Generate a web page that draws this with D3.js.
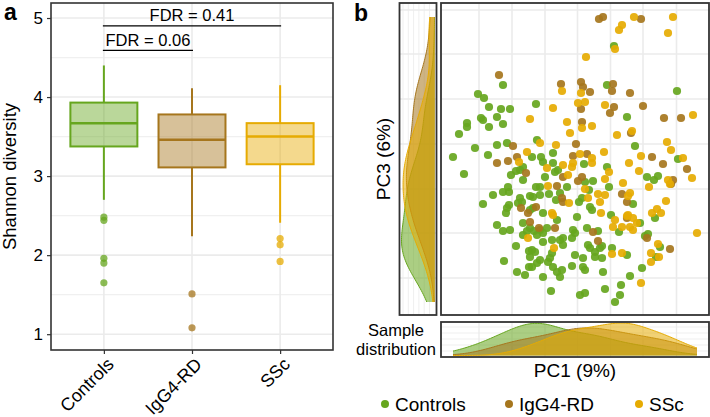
<!DOCTYPE html>
<html><head><meta charset="utf-8">
<script src="https://cdn.jsdelivr.net/npm/d3@7"></script>
<style>body{margin:0;background:#fff}svg{font-family:"Liberation Sans",Arial,sans-serif}</style>
</head><body>
<svg id="c" width="710" height="417"></svg>
<script>
// ---------- Panel a data ----------
const categories = ["Controls", "IgG4-RD", "SSc"];
const groupColors = ["#66a61e", "#a6761d", "#e6ab02"];
const whiskerLow = [2.70, 2.24, 2.41];
const boxQ1 = [3.375, 3.11, 3.15];
const boxMedian = [3.67, 3.46, 3.50];
const boxQ3 = [3.93, 3.78, 3.67];
const whiskerHigh = [4.40, 4.11, 4.15];
const outliers = [[2.48, 2.44, 1.96, 1.90, 1.65], [1.51, 1.08], [2.21, 2.13, 1.92]];
const yTicksA = [1, 2, 3, 4, 5];
const yMinorA = [1.5, 2.5, 3.5, 4.5];
const fdrLabels = ["FDR = 0.41", "FDR = 0.06"];
const fdrPairs = [[0, 2], [0, 1]];
const fdrLevels = [4.90, 4.59];

// ---------- Panel b data (PC1, PC3) ----------
const controlsPoints = [[-7.2,7.5],[-9.7,6.6],[-9.1,6.2],[-8.6,5.3],[-7.4,5.1],[-6.5,5.1],[-9.4,4.2],[-9.2,4.0],[-7.8,4.3],[-10.8,3.7],[-10.8,3.3],[-8.6,3.3],[-7.2,3.6],[-11.6,2.6],[-6.8,1.7],[-7.8,1.5],[-10.0,1.2],[-8.7,0.5],[-12.2,0.3],
[3.9,11.4],[3.2,7.5],[-3.9,5.6],[-3.8,2.0],[-2.2,0.7],[-4.3,0.3],[-3.4,0.3],[10.2,6.9],[5.2,4.3],[6.0,1.4],[10.3,0.1],
[-11.1,-1.4],[-5.2,-0.7],[-5.5,-1.0],[-5.9,-1.1],[-6.4,-1.5],[-5.2,-2.0],[-6.7,-2.7],[-7.2,-3.2],[-6.6,-3.2],[-8.2,-3.5],[-9.2,-4.4],[-5.5,-3.8],[-5.3,-4.2],[-5.7,-4.3],[-6.6,-4.5],[-6.8,-4.8],[-6.9,-5.3],[-7.8,-6.5],[-5.2,-6.3],[-7.2,-7.1],[-6.5,-7.0],[-5.2,-7.5],[-4.8,-7.1],[-5.9,-8.6],[-4.6,-9.1],[-7.1,-10.1],[-5.8,-11.2],[-5.0,-11.5],[-4.6,-10.7],
[-3.2,-0.2],[-2.2,-0.3],[-2.0,-1.2],[-1.7,-1.0],[0.9,-0.4],[3.2,-0.7],[-3.0,-1.7],[1.0,-2.2],[1.8,-2.1],[-3.9,-2.7],[-3.5,-2.7],[-0.8,-2.7],[1.4,-3.0],[3.4,-2.7],[-4.5,-3.6],[-4.2,-3.7],[-3.5,-3.5],[-2.6,-3.4],[-1.5,-3.3],[0.4,-4.2],[0.7,-3.8],[-1.9,-4.0],[-4.2,-4.8],[-4.5,-5.0],[-3.2,-5.3],[-1.8,-6.0],[0.2,-5.7],[1.5,-4.7],[1.7,-5.0],[3.6,-5.5],[-4.5,-6.8],[-4.1,-7.1],[-3.5,-7.0],[-2.8,-6.8],[-3.2,-7.3],[-3.8,-7.5],[-0.2,-7.0],[0.0,-7.3],[-0.3,-7.8],[1.2,-6.8],[2.3,-7.1],[4.4,-7.2],[-3.2,-8.2],[-2.3,-8.0],[-1.5,-8.0],[-1.2,-7.8],[-1.2,-8.5],[1.3,-8.5],[1.5,-8.8],[2.0,-9.2],[2.5,-8.8],[2.7,-8.6],[3.7,-8.8],[-4.3,-9.0],[-4.0,-9.2],[-4.5,-9.7],[-2.3,-9.3],[-2.5,-9.8],[-2.7,-10.2],[-3.5,-10.0],[-3.8,-10.3],[0.0,-9.5],[0.8,-9.8],[2.0,-9.7],[2.7,-9.8],[-2.2,-10.7],[-1.8,-11.2],[-1.3,-11.0],[-0.3,-10.6],[0.8,-10.7],[1.0,-11.0],[2.8,-11.2],[-4.3,-10.7],[-3.2,-11.7],[-1.5,-11.7],[-2.4,-13.1],[0.5,-13.5],[1.0,-13.3],[3.0,-12.9],[4.6,-12.5],[4.5,-13.5],[4.0,-14.2],
[7.9,-2.0],[8.3,-1.6],[7.2,-1.7],[5.8,-4.4],[8.0,-5.8],[6.5,-6.3],[7.0,-7.6],[7.3,-7.4],[8.5,-8.7],[8.1,-9.7],[5.2,-9.5],[6.7,-10.8],[5.5,-11.6]];

const igg4Points = [[-7.6,8.5],[-6.2,1.4],[-5.8,0.3],[-6.7,-0.1],[-7.8,-0.3],[2.4,14.1],[2.8,14.3],[-1.4,7.6],[0.6,7.8],[0.8,7.3],[1.5,6.8],[3.8,7.6],[3.7,6.9],[0.6,5.1],[3.9,5.3],[3.5,4.7],[0.7,3.8],[0.1,1.6],[-0.2,0.4],[1.2,0.6],[6.6,14.1],[5.5,6.7],[6.8,5.4],[8.9,4.2],[10.6,4.2],[5.6,2.7],[7.7,0.3],[-4.9,-1.3],[-5.4,-4.8],[-4.7,-5.3],
[-1.2,-1.7],[0.3,-2.1],[0.7,-1.7],[-1.8,-2.6],[-1.3,-3.8],[-1.2,-4.2],[-3.9,-4.7],[-4.5,-6.2],[-3.6,-6.8],[-2.0,-6.8],[1.8,-7.2],[2.3,-8.1],
[8.8,-0.4],[11.2,-0.9],[9.8,-2.0],[9.6,-2.4],[4.7,-3.4],[5.2,-4.2],[5.2,-5.8],[7.2,-7.8],[9.5,-8.9]];

const sscPoints = [[-4.5,4.1],[-4.8,0.8],[4.7,13.5],[4.4,13.0],[4.0,11.1],[1.1,10.3],[-1.3,6.9],[0.6,6.7],[-2.2,5.2],[0.3,5.7],[1.0,5.8],[3.0,5.5],[-0.8,3.8],[0.7,3.2],[1.7,3.4],[-0.5,2.7],[4.2,2.5],[-3.5,1.7],[-1.9,1.5],[2.9,0.8],[0.5,0.6],[1.7,0.2],[5.9,14.3],[9.8,14.3],[9.3,12.7],[11.8,4.5],[5.7,2.9],[9.2,1.8],[9.6,1.0],[6.6,0.4],[10.8,0.2],[-5.6,-0.2],[-4.7,-7.8],
[-2.8,-0.8],[-1.2,-0.5],[-0.3,-0.7],[-0.2,-0.3],[1.7,-0.3],[3.4,-1.2],[-0.7,-1.5],[3.0,-1.9],[-2.7,-2.6],[1.0,-2.9],[-0.6,-4.3],[1.3,-3.8],[2.3,-3.4],[3.0,-3.5],[2.5,-4.2],[-2.3,-5.3],[-2.2,-5.5],[2.6,-5.3],[4.0,-6.0],[3.8,-6.7],[-2.1,-8.8],[3.7,-9.4],
[5.4,-0.3],[6.4,-1.1],[11.7,-1.8],[9.3,-2.0],[9.5,-2.4],[4.8,-2.3],[7.4,-2.7],[5.5,-3.3],[5.3,-3.6],[9.1,-4.1],[7.7,-5.3],[8.2,-4.9],[8.6,-5.3],[5.3,-5.5],[5.2,-5.6],[5.8,-5.8],[5.5,-6.7],[5.8,-7.0],[6.2,-6.3],[4.7,-6.7],[12.2,-7.3],[8.3,-8.4],[7.6,-9.3],[7.6,-10.2],[8.4,-9.7],[4.7,-9.3],[6.6,-12.3]];

const groupPoints = [controlsPoints, igg4Points, sscPoints];
const pc1Grid = [-9.6, -6.3, -3.0, 0.25, 3.55, 6.8, 10.15];
const pc3Grid = [15.0, 10.6, 6.1, 1.6, -2.9, -7.3, -11.8];
const bandwidthAdjust = 1.2;

const svg = d3.select("#c");
const gridCol = "#ebebeb", frameCol = "#333333";

// ================= Panel a =================
const A = {x0: 51, x1: 333, y0: 3, y1: 350};
const xA = d3.scalePoint().domain(categories).range([A.x0, A.x1]).padding(0.6);
const yA = d3.scaleLinear().domain([0.80, 5.19]).range([A.y1, A.y0]);
const ga = svg.append("g");
ga.selectAll(".minor").data(yMinorA).join("line")
  .attr("x1", A.x0).attr("x2", A.x1).attr("y1", d => yA(d)).attr("y2", d => yA(d))
  .attr("stroke", "#f0f0f0").attr("stroke-width", 1.2);
ga.selectAll(".major").data(yTicksA).join("line")
  .attr("x1", A.x0).attr("x2", A.x1).attr("y1", d => yA(d)).attr("y2", d => yA(d))
  .attr("stroke", gridCol).attr("stroke-width", 1.6);
ga.selectAll(".vmaj").data(categories).join("line")
  .attr("x1", d => xA(d)).attr("x2", d => xA(d)).attr("y1", A.y0).attr("y2", A.y1)
  .attr("stroke", gridCol).attr("stroke-width", 1.6);

const bw = xA.step() * 0.76;
categories.forEach((c, i) => {
  const cx = xA(c), col = groupColors[i];
  ga.append("line").attr("x1", cx).attr("x2", cx).attr("y1", yA(whiskerHigh[i])).attr("y2", yA(boxQ3[i]))
    .attr("stroke", col).attr("stroke-width", 2);
  ga.append("line").attr("x1", cx).attr("x2", cx).attr("y1", yA(boxQ1[i])).attr("y2", yA(whiskerLow[i]))
    .attr("stroke", col).attr("stroke-width", 2);
  ga.append("rect").attr("x", cx - bw / 2).attr("width", bw)
    .attr("y", yA(boxQ3[i])).attr("height", yA(boxQ1[i]) - yA(boxQ3[i]))
    .attr("fill", col).attr("fill-opacity", 0.45).attr("stroke", col).attr("stroke-width", 2);
  ga.append("line").attr("x1", cx - bw / 2).attr("x2", cx + bw / 2)
    .attr("y1", yA(boxMedian[i])).attr("y2", yA(boxMedian[i])).attr("stroke", col).attr("stroke-width", 2.5);
  ga.selectAll(null).data(outliers[i]).join("circle")
    .attr("cx", cx).attr("cy", d => yA(d)).attr("r", 3.6)
    .attr("fill", col).attr("fill-opacity", 0.75);
});
// FDR brackets
fdrPairs.forEach((p, i) => {
  const xa = xA(categories[p[0]]), xb = xA(categories[p[1]]), yy = yA(fdrLevels[i]);
  ga.append("line").attr("x1", xa - 1).attr("x2", xb + 1).attr("y1", yy).attr("y2", yy)
    .attr("stroke", "#000").attr("stroke-width", 1.3);
  ga.append("text").attr("x", (xa + xb) / 2).attr("y", yy - 4.5).attr("text-anchor", "middle")
    .attr("font-size", 16.5).text(fdrLabels[i]);
});
// frame
ga.append("rect").attr("x", A.x0).attr("y", A.y0).attr("width", A.x1 - A.x0).attr("height", A.y1 - A.y0)
  .attr("fill", "none").attr("stroke", frameCol).attr("stroke-width", 1.6);
// y axis
const yAxisA = d3.axisLeft(yA).tickValues(yTicksA).tickSize(4).tickPadding(4).tickFormat(d3.format("d"));
const gy = ga.append("g").attr("transform", `translate(${A.x0},0)`).call(yAxisA);
gy.select(".domain").remove();
gy.selectAll("line").attr("stroke", frameCol).attr("stroke-width", 1.2);
gy.selectAll("text").attr("font-size", 17).attr("fill", "#000").attr("font-family", "Liberation Sans, Arial, sans-serif");
// x axis
const xAxisA = d3.axisBottom(xA).tickSize(4).tickFormat(() => "");
const gx = ga.append("g").attr("transform", `translate(0,${A.y1})`).call(xAxisA);
gx.select(".domain").remove();
gx.selectAll("line").attr("stroke", frameCol).attr("stroke-width", 1.2);
ga.selectAll(".xl").data(categories).join("text")
  .attr("transform", d => `translate(${xA(d) + 11},${A.y1 + 15.5}) rotate(-45)`)
  .attr("text-anchor", "end").attr("font-size", 18).text(d => d);
ga.append("text").attr("transform", `translate(16,${(A.y0 + A.y1) / 2}) rotate(-90)`)
  .attr("text-anchor", "middle").attr("font-size", 18.5).text("Shannon diversity");
svg.append("text").attr("x", 4).attr("y", 20).attr("font-size", 23).attr("font-weight", "bold").text("a");
svg.append("text").attr("x", 354).attr("y", 21).attr("font-size", 23).attr("font-weight", "bold").text("b");

// ================= Panel b =================
const S = {x0: 441, x1: 709, y0: 3, y1: 315};
const xS = d3.scaleLinear().domain([-13.4, 13.4]).range([S.x0, S.x1]);
const yS = d3.scaleLinear().domain([-15.5, 15.7]).range([S.y1, S.y0]);
const gb = svg.append("g");
gb.selectAll(".vg").data(pc1Grid).join("line")
  .attr("x1", d => xS(d)).attr("x2", d => xS(d)).attr("y1", S.y0).attr("y2", S.y1)
  .attr("stroke", gridCol).attr("stroke-width", 1.6);
gb.selectAll(".hg").data(pc3Grid).join("line")
  .attr("x1", S.x0).attr("x2", S.x1).attr("y1", d => yS(d)).attr("y2", d => yS(d))
  .attr("stroke", gridCol).attr("stroke-width", 1.6);
groupPoints.forEach((pts, i) => {
  gb.selectAll(null).data(pts).join("circle")
    .attr("cx", d => xS(d[0])).attr("cy", d => yS(d[1])).attr("r", 4.1)
    .attr("fill", groupColors[i]).attr("fill-opacity", 0.92);
});
gb.append("rect").attr("x", S.x0).attr("y", S.y0).attr("width", S.x1 - S.x0).attr("height", S.y1 - S.y0)
  .attr("fill", "none").attr("stroke", frameCol).attr("stroke-width", 1.8);

// KDE helpers (evaluated over the full data range, like ggplot geom_density)
function nrd0(v) {
  const s = v.slice().sort(d3.ascending);
  const sd = d3.deviation(s);
  const iqr = d3.quantile(s, 0.75) - d3.quantile(s, 0.25);
  const lo = Math.min(sd, iqr / 1.34);
  return 0.9 * lo * Math.pow(s.length, -0.2);
}
function kde(v, lo, hi) {
  const h = nrd0(v) * bandwidthAdjust;
  const n = 150, out = [];
  for (let k = 0; k <= n; k++) {
    const x = lo + (hi - lo) * k / n;
    const d = d3.mean(v, u => Math.exp(-0.5 * ((x - u) / h) ** 2)) / (h * Math.sqrt(2 * Math.PI));
    out.push([x, d]);
  }
  return out;
}
const allPoints = groupPoints.flat();
const pc1Ext = d3.extent(allPoints, d => d[0]);
const pc3Ext = d3.extent(allPoints, d => d[1]);
const densPC1 = groupPoints.map(p => kde(p.map(d => d[0]), pc1Ext[0], pc1Ext[1]));
const densPC3 = groupPoints.map(p => kde(p.map(d => d[1]), pc3Ext[0], pc3Ext[1]));
const maxPC1 = d3.max(densPC1, a => d3.max(a, d => d[1]));
const maxPC3 = d3.max(densPC3, a => d3.max(a, d => d[1]));

// Left density panel (PC3)
const L = {x0: 399.5, x1: 436.5, y0: 3, y1: 315};
const xL = d3.scaleLinear().domain([0, maxPC3]).range([434.8, 401.5]);
const gl = svg.append("g");
d3.range(0, 6).forEach(k => {
  const xx = 403 + k * 5.3;
  gl.append("line").attr("x1", xx).attr("x2", xx).attr("y1", L.y0).attr("y2", L.y1)
    .attr("stroke", "#efefef").attr("stroke-width", 1);
});
gl.selectAll(".hg").data(pc3Grid).join("line")
  .attr("x1", L.x0).attr("x2", L.x1).attr("y1", d => yS(d)).attr("y2", d => yS(d))
  .attr("stroke", gridCol).attr("stroke-width", 1.3);
densPC3.forEach((dd, i) => {
  const area = d3.area().y(d => yS(d[0])).x0(xL(0)).x1(d => xL(d[1]));
  const line = d3.line().y(d => yS(d[0])).x(d => xL(d[1]));
  gl.append("path").attr("d", area(dd)).attr("fill", groupColors[i]).attr("fill-opacity", 0.55);
  gl.append("path").attr("d", line(dd)).attr("fill", "none").attr("stroke", groupColors[i]).attr("stroke-width", 1);
});
gl.append("rect").attr("x", L.x0).attr("y", L.y0).attr("width", L.x1 - L.x0).attr("height", L.y1 - L.y0)
  .attr("fill", "none").attr("stroke", frameCol).attr("stroke-width", 1.8);

// Bottom density panel (PC1)
const B = {x0: 441, x1: 709, y0: 322, y1: 357};
const yB = d3.scaleLinear().domain([0, maxPC1]).range([355.5, 323]);
const gd = svg.append("g");
[327, 333, 339, 345, 351].forEach(yy => {
  gd.append("line").attr("x1", B.x0).attr("x2", B.x1).attr("y1", yy).attr("y2", yy)
    .attr("stroke", "#efefef").attr("stroke-width", 1);
});
gd.selectAll(".vg").data(pc1Grid).join("line")
  .attr("x1", d => xS(d)).attr("x2", d => xS(d)).attr("y1", B.y0).attr("y2", B.y1)
  .attr("stroke", gridCol).attr("stroke-width", 1.3);
densPC1.forEach((dd, i) => {
  const area = d3.area().x(d => xS(d[0])).y0(yB(0)).y1(d => yB(d[1]));
  const line = d3.line().x(d => xS(d[0])).y(d => yB(d[1]));
  gd.append("path").attr("d", area(dd)).attr("fill", groupColors[i]).attr("fill-opacity", 0.55);
  gd.append("path").attr("d", line(dd)).attr("fill", "none").attr("stroke", groupColors[i]).attr("stroke-width", 1);
});
gd.append("rect").attr("x", B.x0).attr("y", B.y0).attr("width", B.x1 - B.x0).attr("height", B.y1 - B.y0)
  .attr("fill", "none").attr("stroke", frameCol).attr("stroke-width", 1.8);

// Titles
svg.append("text").attr("x", 396).attr("y", 336).attr("text-anchor", "middle").attr("font-size", 16.5).text("Sample");
svg.append("text").attr("x", 396).attr("y", 355).attr("text-anchor", "middle").attr("font-size", 16.5).text("distribution");
svg.append("text").attr("x", (S.x0 + S.x1) / 2).attr("y", 377).attr("text-anchor", "middle").attr("font-size", 19).text("PC1 (9%)");
svg.append("text").attr("transform", `translate(390,${(S.y0 + S.y1) / 2}) rotate(-90)`)
  .attr("text-anchor", "middle").attr("font-size", 19).text("PC3 (6%)");

// Legend
const legendX = [385, 509, 639];
const lg = svg.append("g");
categories.forEach((c, i) => {
  lg.append("circle").attr("cx", legendX[i]).attr("cy", 404).attr("r", 4).attr("fill", groupColors[i]);
  lg.append("text").attr("x", legendX[i] + 10).attr("y", 411).attr("font-size", 19).text(c);
});
</script>
</body></html>
